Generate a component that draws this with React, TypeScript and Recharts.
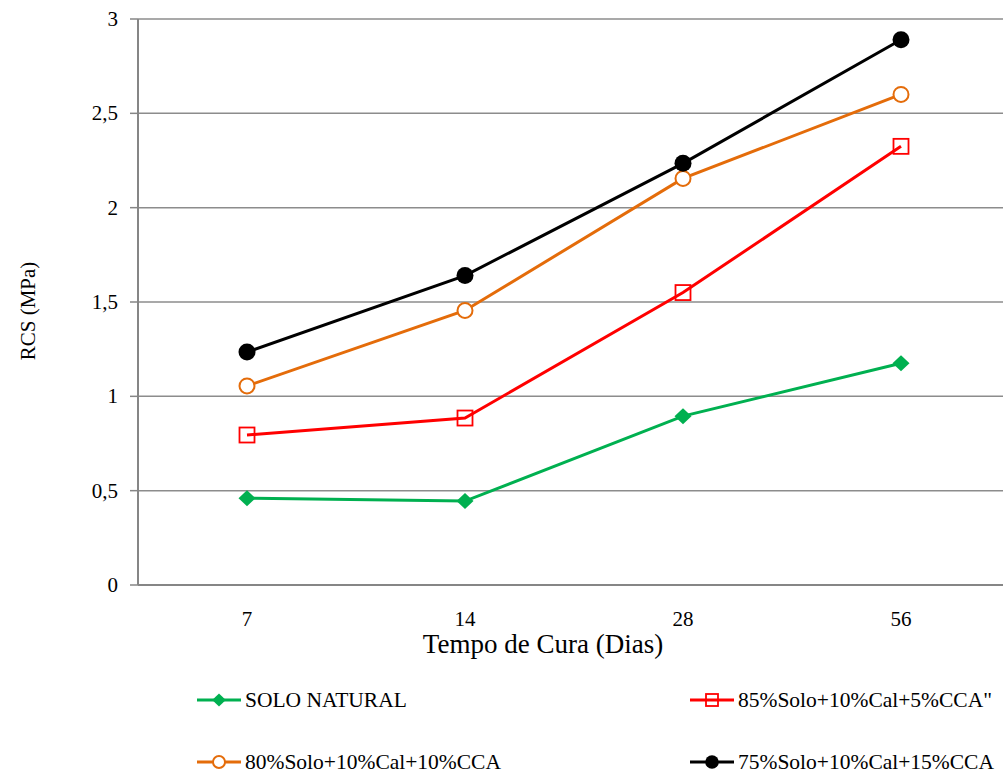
import React from "react";
import { LineChart, Line, XAxis, YAxis, CartesianGrid, Label } from "recharts";

// RCS por tempo de cura
const dias = ["7", "14", "28", "56"];
const soloNatural = [0.46, 0.445, 0.895, 1.175];
const solo85 = [0.795, 0.885, 1.55, 2.325];
const solo80 = [1.055, 1.455, 2.155, 2.6];
const solo75 = [1.235, 1.64, 2.235, 2.89];
const yTicks = [0, 0.5, 1, 1.5, 2, 2.5, 3];
const bandTicks = [0, 1, 2, 3, 4];

const data = dias.map((d, i) => ({
  dia: d,
  natural: soloNatural[i],
  s85: solo85[i],
  s80: solo80[i],
  s75: solo75[i],
}));

const series = [
  { key: "natural", name: "SOLO NATURAL", color: "#00b050", marker: "diamond" },
  { key: "s85", name: "85%Solo+10%Cal+5%CCA\"", color: "#ff0000", marker: "square" },
  { key: "s80", name: "80%Solo+10%Cal+10%CCA", color: "#e46c0a", marker: "ring" },
  { key: "s75", name: "75%Solo+10%Cal+15%CCA", color: "#000000", marker: "dot" },
];

const FONT = "'Liberation Serif', 'Times New Roman', serif";
const AXIS = "#868686";

const drawMarker = (type, color, cx, cy, s, key) => {
  if (type === "diamond") {
    const p = `${cx},${cy - 8 * s} ${cx + 8.5 * s},${cy} ${cx},${cy + 8 * s} ${cx - 8.5 * s},${cy}`;
    return <polygon key={key} points={p} fill={color} />;
  }
  if (type === "square") {
    const h = 7.5 * s;
    return (
      <rect key={key} x={cx - h} y={cy - h} width={h * 2} height={h * 2}
        fill="none" stroke={color} strokeWidth={1.8} />
    );
  }
  if (type === "ring") {
    return <circle key={key} cx={cx} cy={cy} r={7.5 * s} fill="#fff" stroke={color} strokeWidth={2} />;
  }
  return <circle key={key} cx={cx} cy={cy} r={8.5 * s} fill={color} />;
};

const makeDot = (type, color) => (props) => {
  const { cx, cy, index } = props;
  if (cx == null || cy == null) return <g key={`e-${index}`} />;
  return drawMarker(type, color, cx, cy, 1, `m-${index}`);
};

// tick labels drawn as plain svg text so the size sticks
const XTick = ({ x, y, payload }) => (
  <text x={x} y={y} dy={15} textAnchor="middle" fontSize={21} fontFamily={FONT} fill="#000">
    {payload.value}
  </text>
);

const YTick = ({ x, y, payload }) => (
  <text x={x} y={y} dy={7} textAnchor="end" fontSize={21} fontFamily={FONT} fill="#000">
    {String(payload.value).replace(".", ",")}
  </text>
);

const legendPos = [
  { left: 195, top: 689 },
  { left: 688, top: 689 },
  { left: 195, top: 751 },
  { left: 688, top: 751 },
];

const YTitle = () => (
  <text x={28} y={311} transform="rotate(-90 28 311)" textAnchor="middle"
    dominantBaseline="central" fontSize={21} fontFamily={FONT} fill="#000">
    RCS (MPa)
  </text>
);

export default function App() {
  return (
    <div style={{ position: "absolute", left: 0, top: 0, width: 1003, height: 775,
      overflow: "hidden", background: "#fff", fontFamily: FONT }}>
      <LineChart width={1030} height={680} data={data}
        margin={{ top: 19, right: 20, left: 78, bottom: 0 }}>
        <CartesianGrid vertical={false} stroke="#8c8c8c" strokeWidth={1.5} />
        <XAxis xAxisId="bands" type="number" domain={[0, 4]} ticks={bandTicks}
          height={0} axisLine={false} tickSize={5} tickFormatter={() => ""}
          tickLine={{ stroke: AXIS, strokeWidth: 1.5 }} />
        <XAxis dataKey="dia" scale="band" height={95} tickLine={false}
          tickSize={6} tickMargin={20}
          axisLine={{ stroke: AXIS, strokeWidth: 2 }}
          tick={<XTick />}>
          <Label value="Tempo de Cura (Dias)" position="insideBottom" offset={27}
            dx={-31} fill="#000" fontSize={27} fontFamily={FONT} />
        </XAxis>
        <YAxis width={60} domain={[0, 3]} ticks={yTicks} tickSize={8} tickMargin={12}
          axisLine={{ stroke: AXIS, strokeWidth: 2 }}
          tickLine={{ stroke: AXIS, strokeWidth: 1.5 }}
          tick={<YTick />}>
          <Label content={<YTitle />} />
        </YAxis>
        {series.map((s) => (
          <Line key={s.key} dataKey={s.key} name={s.name} type="linear"
            stroke={s.color} strokeWidth={3} isAnimationActive={false}
            dot={makeDot(s.marker, s.color)} activeDot={false} />
        ))}
      </LineChart>
      {series.map((s, i) => (
        <div key={s.key} style={{ position: "absolute", left: legendPos[i].left,
          top: legendPos[i].top, display: "flex", alignItems: "center",
          whiteSpace: "nowrap", fontSize: 21.5, lineHeight: "22px", color: "#000" }}>
          <svg width={46} height={22}>
            <line x1={2} y1={11} x2={46} y2={11} stroke={s.color} strokeWidth={3} />
            {drawMarker(s.marker, s.color, 24, 11, 0.8, "l")}
          </svg>
          <span style={{ marginLeft: 4 }}>{s.name}</span>
        </div>
      ))}
    </div>
  );
}
